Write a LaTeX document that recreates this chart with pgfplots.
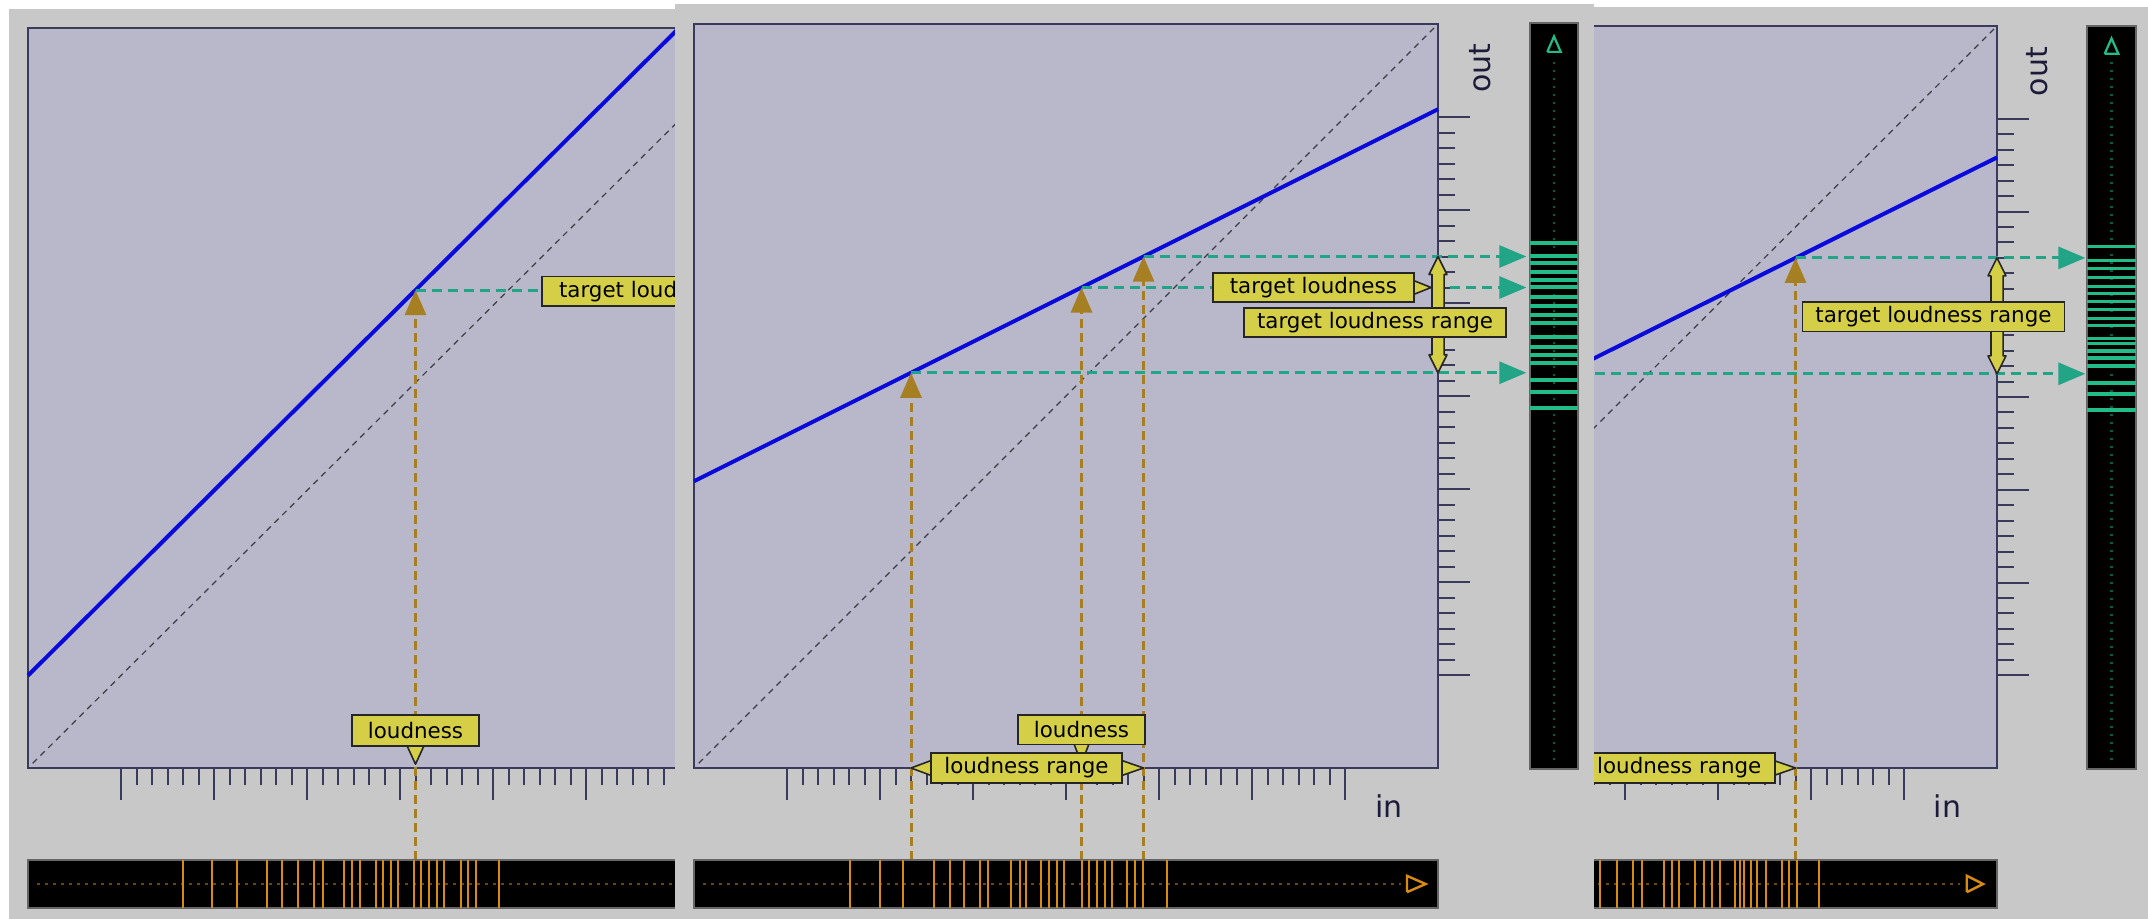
\documentclass[border=0pt]{standalone}
\usepackage{fontspec}
\setmainfont{DejaVu Sans}
\usepackage{pgfplots}
\pgfplotsset{compat=1.18}
\usetikzlibrary{arrows.meta}

\definecolor{outerbg}{HTML}{C8C8C8}
\definecolor{plotbg}{HTML}{B8B8CA}
\definecolor{frame}{HTML}{3A3A5C}
\definecolor{curve}{HTML}{0A0ADC}
\definecolor{diagc}{HTML}{3C3C46}
\definecolor{gold}{HTML}{A57F22}
\definecolor{tealc}{HTML}{22A486}
\definecolor{boxy}{HTML}{D5CF48}
\definecolor{histo}{HTML}{D88A12}
\definecolor{dotc}{HTML}{6A4510}
\definecolor{meterg}{HTML}{22BC88}
\definecolor{dotg}{HTML}{0C5A3C}
\definecolor{axtext}{HTML}{1C1C3A}

\tikzset{
  oarrow/.style={gold, line width=1.5pt, dash pattern=on 4.5pt off 2.5pt, -{Triangle[width=10.5pt,length=12.5pt]}},
  garrow/.style={tealc, line width=1.5pt, dash pattern=on 5pt off 3pt, -{Triangle[width=11pt,length=13.5pt]}},
  gline/.style={tealc, line width=1.5pt, dash pattern=on 5pt off 3pt},
  diagl/.style={diagc, line width=0.6pt, dash pattern=on 3pt off 2.5pt},
  yshape/.style={draw=black!85, fill=boxy, line width=0.8pt, line join=round},
  lbl/.style={draw=black!85, fill=boxy, line width=0.8pt, inner sep=0pt, minimum height=14.75pt, text=black, font=\fontsize{10.7}{12}\selectfont},
  axlbl/.style={text=axtext, font=\fontsize{15}{18}\selectfont, inner sep=0pt},
}

\pgfplotsset{
  mainax/.style={scale only axis, width=372pt, xmin=0, xmax=48, ymin=0, ymax=48, clip=false, anchor=south west,
    axis background/.style={fill=plotbg},
    axis line style={draw=frame, line width=1.1pt},
    xtick={6,12,...,42}, ytick={6,12,...,42}, minor x tick num=5, minor y tick num=5,
    xticklabel=\empty, yticklabel=\empty, tick align=outside, xtick pos=left, ytick pos=right,
    major tick length=16pt, minor tick length=8.5pt,
    tick style={draw=frame, line width=1pt}},
  barax/.style={scale only axis, width=372pt, height=24pt, xmin=0, xmax=48, ymin=0, ymax=1, anchor=south west,
    axis background/.style={fill=black}, axis line style={draw=black!60, line width=0.6pt},
    xtick=\empty, ytick=\empty},
  meterax/.style={scale only axis, xmin=0, xmax=1, anchor=south west,
    axis background/.style={fill=black}, axis line style={draw=black!60, line width=0.6pt},
    xtick=\empty, ytick=\empty},
}

\begin{document}
\begin{tikzpicture}
\begin{scope}[x=0.5pt,y=-0.5pt]
\fill[white] (0,0) rectangle (2148,919);
\fill[outerbg] (9,9) rectangle (700,919);
\end{scope}

% ---------------- Panel 1 ----------------
\begin{axis}[mainax, at={(14pt,-384pt)}, height=370pt]
\addplot[diagl] coordinates {(0.3,0.3) (48,48)};
\addplot[curve, line width=2pt] coordinates {(0,6) (42,48)};
\addplot[oarrow] coordinates {(25,-5.97) (25,31)};
\addplot[gline] coordinates {(25,31) (40,31)};
\node[lbl, minimum width=100.5pt] at (39.65,30.93) {target loudness};
\filldraw[yshape] (24.45,1.45) -- (25.55,1.45) -- (25,0.25) -- cycle;
\node[lbl, minimum width=63.5pt, minimum height=15.5pt] at (25,2.43) {loudness};
\end{axis}
\begin{axis}[barax, at={(14pt,-454pt)}]
\addplot[dotc, line width=1.2pt, dash pattern=on 1.2pt off 2.8pt] coordinates {(0.6,0.5) (45.6,0.5)};
\addplot[histo, line width=1pt, ycomb] coordinates {(10.0,1) (11.9,1) (13.5,1) (15.45,1) (16.4,1) (17.4,1) (18.45,1) (19.0,1) (20.4,1) (20.9,1) (21.4,1) (22.45,1) (22.9,1) (23.45,1) (23.9,1) (24.9,1) (25.35,1) (25.85,1) (26.4,1) (26.85,1) (27.95,1) (28.4,1) (28.9,1) (30.4,1)};
\end{axis}

% ---------------- Panel 3 ----------------
\begin{scope}[x=0.5pt,y=-0.5pt]
\fill[outerbg] (1580,7) rectangle (2148,919);
\end{scope}
\begin{axis}[mainax, at={(626.5pt,-384pt)}, height=371pt]
\addplot[diagl] coordinates {(0.3,0.3) (48,48)};
\addplot[curve, line width=2pt] coordinates {(0,15.5) (48,39.5)};
\addplot[oarrow] coordinates {(35,-5.95) (35,33)};
\addplot[garrow] coordinates {(35,33) (53.7,33)};
\addplot[garrow] coordinates {(20,25.5) (53.7,25.5)};
\filldraw[yshape] (48,33) -- (48.58,31.84) -- (48.39,31.84) -- (48.39,26.66) -- (48.58,26.66) -- (48,25.5) -- (47.42,26.66) -- (47.61,26.66) -- (47.61,31.84) -- (47.42,31.84) -- cycle;
\node[lbl, minimum width=131pt] at (43.9,29.2) {target loudness range};
\filldraw[yshape] (33.5,0.52) -- (35,0) -- (33.5,-0.52) -- cycle;
\node[lbl, minimum width=95.5pt] at (27.5,0) {loudness range};
\node[axlbl] at (44.8,-2.46) {in};
\node[axlbl, rotate=90] at (50.6,45.05) {out};
\end{axis}
\begin{axis}[barax, at={(626.5pt,-454pt)}]
\addplot[dotc, line width=1.2pt, dash pattern=on 1.2pt off 2.8pt] coordinates {(0.6,0.5) (45.6,0.5)};
\addplot[histo, line width=1.2pt] coordinates {(46.05,0.33) (47.1,0.5) (46.05,0.67) (46.05,0.33)};
\addplot[histo, line width=1pt, ycomb] coordinates {(16,1) (18,1) (19.5,1) (21.5,1) (22.4,1) (23.5,1) (24.5,1) (25.1,1) (26.5,1) (27.0,1) (27.5,1) (28.5,1) (29.1,1) (29.6,1) (30.1,1) (31.1,1) (31.4,1) (31.65,1) (32.1,1) (32.5,1) (33.1,1) (34.1,1) (34.6,1) (35.1,1) (36.5,1)};
\end{axis}
\begin{axis}[meterax, at={(1043.5pt,-384.5pt)}, width=24.5pt, height=371.5pt, ymin=-0.065, ymax=48]
\addplot[dotg, line width=1.2pt, dash pattern=on 1.2pt off 2.8pt] coordinates {(0.5,0.5) (0.5,45.8)};
\addplot[meterg, line width=1.1pt] coordinates {(0.36,46.2) (0.5,47.2) (0.64,46.2) (0.36,46.2)};
\addplot[meterg, line width=1.6pt, xcomb] coordinates {(1,33.74) (1,32.84) (1,32.32) (1,31.74) (1,31.16) (1,30.71) (1,30.19) (1,29.68) (1,29.1) (1,28.65) (1,27.81) (1,27.48) (1,26.97) (1,26.52) (1,26.0) (1,24.9) (1,24.19) (1,23.16)};
\end{axis}

% ---------------- Panel 2 ----------------
\begin{scope}[x=0.5pt,y=-0.5pt]
\fill[outerbg] (675,4) rectangle (1594,919);
\end{scope}
\begin{axis}[mainax, at={(347pt,-384pt)}, height=372pt]
\addplot[diagl] coordinates {(0.3,0.3) (48,48)};
\addplot[curve, line width=2pt] coordinates {(0,18.5) (48,42.5)};
\addplot[oarrow] coordinates {(14,-5.94) (14,25.5)};
\addplot[oarrow] coordinates {(25,-5.94) (25,31)};
\addplot[oarrow] coordinates {(29,-5.94) (29,33)};
\addplot[garrow] coordinates {(29,33) (53.7,33)};
\addplot[garrow] coordinates {(25,31) (53.7,31)};
\addplot[garrow] coordinates {(14,25.5) (53.7,25.5)};
\filldraw[yshape] (48,33) -- (48.58,31.84) -- (48.39,31.84) -- (48.39,26.66) -- (48.58,26.66) -- (48,25.5) -- (47.42,26.66) -- (47.61,26.66) -- (47.61,31.84) -- (47.42,31.84) -- cycle;
\filldraw[yshape] (46.3,31.5) -- (47.55,31) -- (46.3,30.5) -- cycle;
\node[lbl, minimum width=100.5pt] at (39.96,31) {target loudness};
\node[lbl, minimum width=131pt] at (43.94,28.74) {target loudness range};
\filldraw[yshape] (24.5,1.6) -- (25.5,1.6) -- (25,0.3) -- cycle;
\node[lbl, minimum width=63.25pt] at (25,2.47) {loudness};
\filldraw[yshape] (15.4,0.52) -- (14,0) -- (15.4,-0.52) -- cycle;
\filldraw[yshape] (27.5,0.52) -- (29,0) -- (27.5,-0.52) -- cycle;
\node[lbl, minimum width=95.5pt] at (21.45,0) {loudness range};
\node[axlbl] at (44.84,-2.45) {in};
\node[axlbl, rotate=90] at (50.7,45.16) {out};
\end{axis}
\begin{axis}[barax, at={(347pt,-454pt)}]
\addplot[dotc, line width=1.2pt, dash pattern=on 1.2pt off 2.8pt] coordinates {(0.6,0.5) (45.6,0.5)};
\addplot[histo, line width=1.2pt] coordinates {(46.0,0.33) (47.2,0.5) (46.0,0.67) (46.0,0.33)};
\addplot[histo, line width=1pt, ycomb] coordinates {(10.05,1) (12.0,1) (13.5,1) (15.5,1) (16.5,1) (17.45,1) (18.45,1) (18.95,1) (20.45,1) (21.0,1) (21.4,1) (22.4,1) (22.9,1) (23.45,1) (23.9,1) (25.0,1) (25.5,1) (26.0,1) (26.5,1) (26.95,1) (27.95,1) (28.45,1) (28.95,1) (30.5,1)};
\end{axis}
\begin{axis}[meterax, at={(765pt,-384.5pt)}, width=24pt, height=373pt, ymin=-0.065, ymax=48.065]
\addplot[dotg, line width=1.2pt, dash pattern=on 1.2pt off 2.8pt] coordinates {(0.5,0.5) (0.5,45.8)};
\addplot[meterg, line width=1.1pt] coordinates {(0.36,46.2) (0.5,47.2) (0.64,46.2) (0.36,46.2)};
\addplot[meterg, line width=1.6pt, xcomb] coordinates {(1,33.87) (1,33.03) (1,32.58) (1,32.0) (1,31.48) (1,31.03) (1,30.39) (1,29.81) (1,29.23) (1,28.71) (1,27.81) (1,27.16) (1,26.65) (1,26.13) (1,25.03) (1,24.26) (1,23.23)};
\end{axis}

\pgfresetboundingbox
\path[use as bounding box] (0pt,0pt) rectangle (1074pt,-459.5pt);
\end{tikzpicture}
\end{document}
